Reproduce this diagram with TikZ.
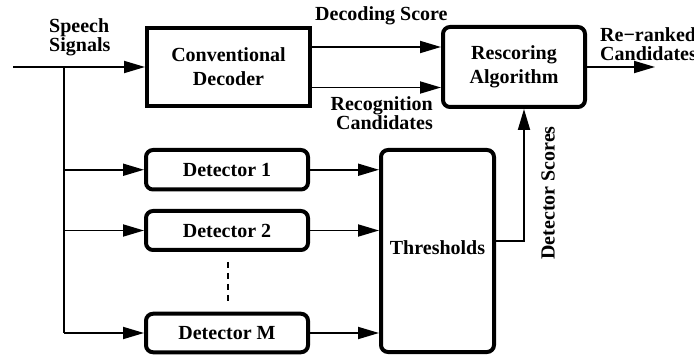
\documentclass[tikz,border=0pt]{standalone}
\usepackage{fontspec}
\setmainfont{Liberation Serif}
\usetikzlibrary{arrows.meta}
\begin{document}
\begin{tikzpicture}[x=1pt,y=-1pt,
  font=\fontsize{20}{24}\selectfont\bfseries,
  box/.style={draw,line width=4pt,inner sep=0pt,align=center},
  rbox/.style={box,rounded corners=7pt},
  lbl/.style={inner sep=0pt,font=\fontsize{20}{19}\selectfont\bfseries},
  conn/.style={line width=1.8pt},
  arr/.style={conn,-{Triangle[length=21pt,width=12pt]}}]
\useasboundingbox (0,0) rectangle (694,358);
% boxes
\node[box,minimum width=163pt,minimum height=78pt] (dec) at (228.5,67) {Conventional\\Decoder};
\node[rbox,minimum width=142pt,minimum height=80pt] (resc) at (514,67) {Rescoring\\Algorithm};
\node[rbox,minimum width=162pt,minimum height=39.5pt] (d1) at (227,169.75) {Detector 1};
\node[rbox,minimum width=162pt,minimum height=39pt] (d2) at (227,230.5) {Detector 2};
\node[rbox,minimum width=162pt,minimum height=38.5pt] (dM) at (227,333) {Detector M};
\node[rbox,minimum width=113pt,minimum height=202pt] (thr) at (437.5,251) {\raisebox{6pt}{Thresholds}};
% labels
\node[lbl,anchor=west,align=left] (speech) at (49,36.8) {Speech\\Signals};
\node[lbl,anchor=base west] (dscore) at (315,21) {Decoding Score};
\node[lbl,anchor=east,align=right] (rcand) at (433,112.8) {Recognition\\Candidates};
\node[lbl,anchor=west,align=left] (rerank) at (600,43.8) {Re−ranked\\Candidates};
\node[lbl,rotate=90] (detsc) at (548,193) {Detector Scores};
% coordinates
\coordinate (in) at (13,67);
\coordinate (br) at (64,67);
\coordinate (out) at (655,67);
\coordinate (dsA) at (228,262);
\coordinate (dsB) at (228,303);
% connectors
\draw[arr] (in) -- (dec.west);
\draw[conn] (br) -- (br |- dM.west);
\draw[arr] (br |- d1.west) -- (d1.west);
\draw[arr] (br |- d2.west) -- (d2.west);
\draw[arr] (br |- dM.west) -- (dM.west);
\draw[arr] ([yshift=20pt]dec.east) -- ([yshift=20pt]resc.west);
\draw[arr] ([yshift=-20.5pt]dec.east) -- ([yshift=-20.5pt]resc.west);
\draw[arr] (resc.east) -- (out);
\draw[arr] (d1.east) -- (d1.east -| thr.west);
\draw[arr] (d2.east) -- (d2.east -| thr.west);
\draw[arr] (dM.east) -- (dM.east -| thr.west);
\draw[arr] ([yshift=10pt]thr.east) -| ([xshift=10pt]resc.south);
\draw[conn,dashed,dash pattern=on 6pt off 5pt] (dsA) -- (dsB);
\end{tikzpicture}
\end{document}
